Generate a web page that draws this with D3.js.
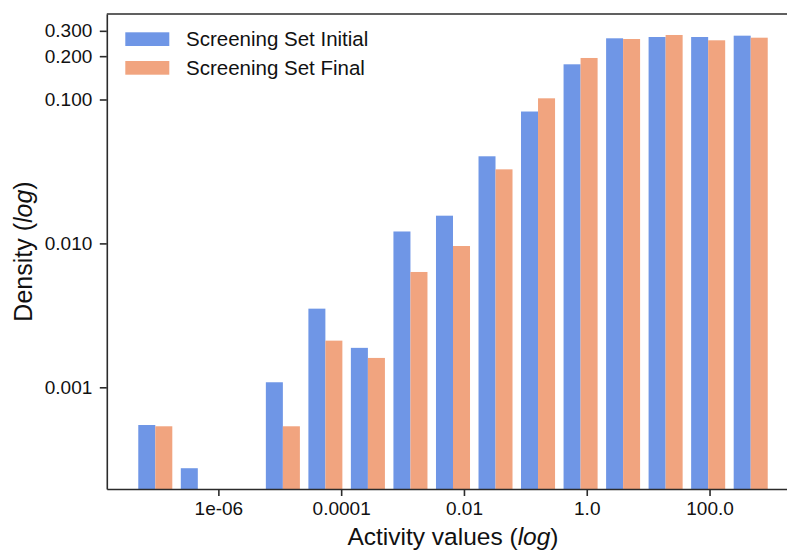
<!DOCTYPE html>
<html>
<head>
<meta charset="utf-8">
<script src="https://cdn.jsdelivr.net/npm/d3@7"></script>
<style>
  body { margin: 0; background: #fff; }
  svg { display: block; font-family: "Liberation Sans", Arial, sans-serif; }
</style>
</head>
<body>
<div id="chart"></div>
<script>
// histogram bin edges (activity values, log spaced)
var binEdges = [4.227e-8, 2.084e-7, 1.026e-6, 5.058e-6, 2.495e-5, 1.227e-4, 6.053e-4,
                2.985e-3, 1.472e-2, 7.244e-2, 0.3573, 1.762, 8.670, 42.76, 210.9, 1040];

// densities per bin (0 = empty bin)
var initialDensity = [5.47e-4, 2.74e-4, 0, 1.084e-3, 3.52e-3, 1.88e-3, 0.0121, 0.01558,
                      0.0403, 0.0825, 0.1756, 0.2662, 0.2718, 0.2718, 0.2776];
var finalDensity   = [5.36e-4, 0, 0, 5.36e-4, 2.11e-3, 1.60e-3, 6.33e-3, 9.59e-3,
                      0.0327, 0.1019, 0.1943, 0.2632, 0.2807, 0.2578, 0.2688];

var seriesNames = ["Screening Set Initial", "Screening Set Final"];
var colors = ["#6f96e6", "#f1a47f"];

var xTickValues = [1e-6, 1e-4, 1e-2, 1, 100];
var xTickLabels = ["1e-06", "0.0001", "0.01", "1.0", "100.0"];
var yTickValues = [0.001, 0.01, 0.1, 0.2, 0.3];
var yTickLabels = ["0.001", "0.010", "0.100", "0.200", "0.300"];

// dimensions (right spine falls just outside the picture)
var W = 787, H = 550;
var margin = {top: 14, left: 106.8, bottom: 61};
var width = 692.4;
var height = H - margin.top - margin.bottom;

var svg = d3.select("#chart")
  .append("svg")
  .attr("width", W)
  .attr("height", H)
  .append("g")
  .attr("transform", "translate(" + margin.left + "," + margin.top + ")");

// x domain: bars extent plus 5% padding, in log space
var n = binEdges.length - 1;
var lg = binEdges.map(Math.log10);
var barLo = lg[0] + 0.1 * (lg[1] - lg[0]);
var barHi = lg[n] - 0.1 * (lg[n] - lg[n - 1]);
var pad = 0.05 * (barHi - barLo);

var x = d3.scaleLog()
  .domain([Math.pow(10, barLo - pad), Math.pow(10, barHi + pad)])
  .range([0, width]);

var y = d3.scaleLog()
  .domain([1.965e-4, 0.3927])
  .range([height, 0]);

// bars: two side by side per bin, taking 80% of the bin
var bars = [];
for (var i = 0; i < n; i++) {
  [initialDensity, finalDensity].forEach(function(series, s) {
    if (series[i] > 0) bars.push({bin: i, s: s, value: series[i]});
  });
}

svg.selectAll("rect.bar")
  .data(bars)
  .enter()
  .append("rect")
    .attr("class", "bar")
    .attr("x", function(d) {
      var x0 = x(binEdges[d.bin]), x1 = x(binEdges[d.bin + 1]);
      return x0 + (0.1 + 0.4 * d.s) * (x1 - x0);
    })
    .attr("width", function(d) {
      return 0.4 * (x(binEdges[d.bin + 1]) - x(binEdges[d.bin]));
    })
    .attr("y", function(d) { return y(d.value); })
    .attr("height", function(d) { return height - y(d.value); })
    .attr("fill", function(d) { return colors[d.s]; });

// axes
var xAxis = svg.append("g")
  .attr("transform", "translate(0," + height + ")")
  .call(d3.axisBottom(x)
    .tickValues(xTickValues)
    .tickFormat(function(d, i) { return xTickLabels[i]; })
    .tickSize(7).tickPadding(6).tickSizeOuter(0));

var yAxis = svg.append("g")
  .call(d3.axisLeft(y)
    .tickValues(yTickValues)
    .tickFormat(function(d, i) { return yTickLabels[i]; })
    .tickSize(7).tickPadding(7.5).tickSizeOuter(0));

[xAxis, yAxis].forEach(function(a) {
  a.selectAll("path, line").attr("stroke", "#2b2b2b").attr("stroke-width", 1.6);
  a.selectAll("text")
    .attr("fill", "#111")
    .style("font-size", "19px")
    .style("font-family", "'Liberation Sans', Arial, sans-serif");
});

// top spine
svg.append("line")
  .attr("x1", 0).attr("x2", width)
  .attr("y1", 0).attr("y2", 0)
  .attr("stroke", "#2b2b2b")
  .attr("stroke-width", 1.6);

// axis titles
var xl = svg.append("text")
  .attr("x", width / 2)
  .attr("y", 530.5)
  .attr("text-anchor", "middle")
  .style("font-size", "24.5px")
  .attr("fill", "#111");
xl.append("tspan").text("Activity values (");
xl.append("tspan").style("font-style", "italic").text("log");
xl.append("tspan").text(")");

var yl = svg.append("text")
  .attr("transform", "translate(" + (31.7 - margin.left) + "," + (height / 2) + ") rotate(-90)")
  .attr("text-anchor", "middle")
  .style("font-size", "25px")
  .attr("fill", "#111");
yl.append("tspan").text("Density (");
yl.append("tspan").style("font-style", "italic").text("log");
yl.append("tspan").text(")");

// legend
var legend = svg.selectAll("g.legend")
  .data(seriesNames)
  .enter()
  .append("g")
  .attr("class", "legend")
  .attr("transform", function(d, i) { return "translate(" + (125.3 - margin.left) + "," + (32.3 - margin.top + i * 28.7) + ")"; });

legend.append("rect")
  .attr("width", 44)
  .attr("height", 13.7)
  .attr("fill", function(d, i) { return colors[i]; });

legend.append("text")
  .attr("x", 60.7)
  .attr("y", 6.9)
  .attr("dy", "0.35em")
  .style("font-size", "20.5px")
  .attr("fill", "#111")
  .text(function(d) { return d; });
</script>
</body>
</html>
